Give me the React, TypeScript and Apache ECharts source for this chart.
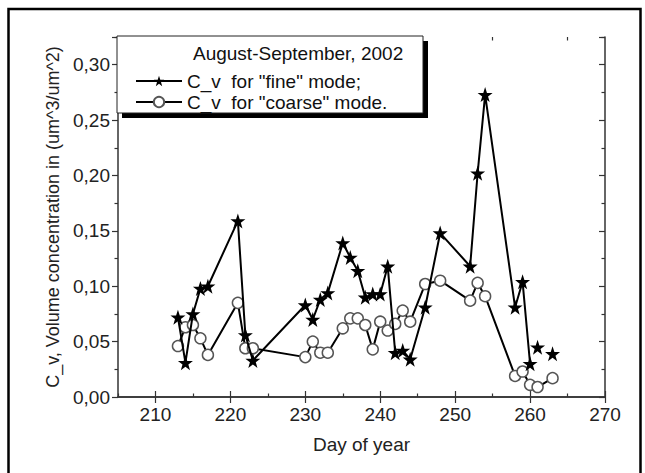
import React, { useEffect, useRef } from "react";
import * as echarts from "echarts";

const days = [213, 214, 215, 216, 217, 221, 222, 223, 230, 231, 232, 233, 235, 236, 237, 238, 239, 240, 241, 242, 243, 244, 246, 248, 252, 253, 254, 258, 259, 260, 261, 263];
const fineValues = [0.072, 0.031, 0.075, 0.098, 0.100, 0.159, 0.056, 0.033, 0.083, 0.070, 0.088, 0.094, 0.139, 0.126, 0.114, 0.090, 0.093, 0.093, 0.118, 0.040, 0.042, 0.034, 0.081, 0.148, 0.118, 0.202, 0.273, 0.081, 0.104, 0.030, 0.045, 0.039];
const coarseValues = [0.046, 0.063, 0.065, 0.053, 0.038, 0.085, 0.044, 0.044, 0.036, 0.050, 0.040, 0.040, 0.062, 0.071, 0.071, 0.065, 0.043, 0.068, 0.060, 0.066, 0.078, 0.068, 0.102, 0.105, 0.087, 0.103, 0.091, 0.019, 0.023, 0.011, 0.009, 0.017];
// days after which the "fine" line is broken
const fineBreaksAfter = [260, 261];

const xMajorTicks = [210, 220, 230, 240, 250, 260, 270];
const xMinorTicks = [205, 215, 225, 235, 245, 255, 265];
const legendTitle = "August-September, 2002";
const fineName = 'C_v  for "fine" mode;';
const coarseName = 'C_v  for "coarse" mode.';
const xName = "Day of year";
const yName = "C_v, Volume concentration in (um^3/um^2)";

const STAR = "path://M50,0 L61.8,35.1 L98.1,35.1 L68.8,56.7 L79.4,91.1 L50,70 L20.6,91.1 L31.2,56.7 L1.9,35.1 L38.2,35.1 Z";
const FONT = "'Liberation Sans', Arial, sans-serif";

export default function App() {
  const ref = useRef<HTMLDivElement>(null);
  useEffect(() => {
    if (!ref.current) return;
    const chart = echarts.init(ref.current, undefined, { renderer: "svg" });

    const fineData: any[] = [];
    days.forEach((d, i) => {
      fineData.push([d, fineValues[i]]);
      if (fineBreaksAfter.includes(d)) fineData.push([d + 0.5, "-"]);
    });
    const coarseData = days.map((d, i) => [d, coarseValues[i]]);

    const axisLine = { show: true, lineStyle: { color: "#333", width: 1.5 } };
    const tickLine = { color: "#333", width: 1.2 };
    const labelStyle = { color: "#222", fontSize: 19, fontFamily: FONT };
    const gridBox = { left: 118, right: 40, top: 37, bottom: 76, containLabel: false };

    const xBase = { type: "value", min: 205, max: 270, interval: 5, splitLine: { show: false } };
    const yBase = { type: "value", min: 0, max: 0.325, interval: 0.05, splitLine: { show: false } };

    chart.setOption({
      animation: false,
      textStyle: { fontFamily: FONT },
      grid: [gridBox, gridBox],
      xAxis: [
        {
          ...xBase, gridIndex: 0, position: "bottom",
          axisLine,
          axisTick: { show: true, inside: true, length: 6, lineStyle: tickLine, customValues: xMajorTicks },
          axisLabel: { ...labelStyle, margin: 8, customValues: xMajorTicks, formatter: (v: number) => String(v) },
          name: xName, nameLocation: "middle", nameGap: 38,
          nameTextStyle: { color: "#222", fontSize: 19, fontFamily: FONT },
        },
        {
          ...xBase, gridIndex: 0, position: "top",
          axisLine,
          axisTick: { show: true, inside: true, length: 6, lineStyle: tickLine, customValues: xMajorTicks },
          axisLabel: { show: false },
        },
        {
          ...xBase, gridIndex: 1, position: "bottom",
          axisLine: { show: false },
          axisTick: { show: true, inside: true, length: 3.5, lineStyle: tickLine, customValues: xMinorTicks },
          axisLabel: { show: false },
        },
        {
          ...xBase, gridIndex: 1, position: "top",
          axisLine: { show: false },
          axisTick: { show: true, inside: true, length: 3.5, lineStyle: tickLine, customValues: xMinorTicks },
          axisLabel: { show: false },
        },
      ],
      yAxis: [
        {
          ...yBase, gridIndex: 0, position: "left",
          axisLine,
          axisTick: { show: true, inside: false, length: 6, lineStyle: tickLine },
          minorTick: { show: true, splitNumber: 2, length: 3.5, lineStyle: tickLine },
          axisLabel: { ...labelStyle, margin: 8, showMaxLabel: false, formatter: (v: number) => v.toFixed(2).replace(".", ",") },
          name: yName, nameLocation: "middle", nameGap: 56, nameRotate: 90,
          nameTextStyle: { color: "#222", fontSize: 18, fontFamily: FONT },
        },
        {
          ...yBase, gridIndex: 0, position: "right",
          axisLine,
          axisTick: { show: true, inside: true, length: 6, lineStyle: tickLine },
          minorTick: { show: true, splitNumber: 2, length: 3.5, lineStyle: tickLine },
          axisLabel: { show: false },
        },
        {
          ...yBase, gridIndex: 1, show: false,
        },
      ],
      legend: {
        orient: "vertical", left: 130, top: 66, itemWidth: 46, itemHeight: 13, itemGap: 1,
        selectedMode: false,
        textStyle: { color: "#111", fontSize: 19, lineHeight: 20, fontFamily: FONT },
        data: [fineName, coarseName],
        z: 10,
      },
      graphic: [
        { type: "rect", z: 5, shape: { x: 8.5, y: 9, width: 632, height: 480 }, style: { fill: "none", stroke: "#000", lineWidth: 2.5 } },
        { type: "rect", z: 6, shape: { x: 122, y: 41, width: 306, height: 77 }, style: { fill: "#000" } },
        { type: "rect", z: 7, shape: { x: 117, y: 36, width: 306, height: 77 }, style: { fill: "#fff", stroke: "#222", lineWidth: 1 } },
        { type: "text", z: 8, x: 193, y: 53, style: { text: legendTitle, fill: "#111", fontSize: 19, fontFamily: FONT, verticalAlign: "middle" } },
      ],
      series: [
        {
          name: fineName, type: "line", xAxisIndex: 0, yAxisIndex: 0, data: fineData,
          connectNulls: false,
          symbol: STAR, symbolSize: 15,
          lineStyle: { color: "#000", width: 2 },
          itemStyle: { color: "#000" },
          z: 3,
        },
        {
          name: coarseName, type: "line", xAxisIndex: 0, yAxisIndex: 0, data: coarseData,
          symbol: "circle", symbolSize: 11,
          lineStyle: { color: "#000", width: 2 },
          itemStyle: { color: "#fff", borderColor: "#555", borderWidth: 1.5 },
          z: 2,
        },
      ],
    });
    return () => chart.dispose();
  }, []);
  return <div ref={ref} style={{ position: "absolute", left: 0, top: 0, width: 645, height: 473, background: "#fff" }} />;
}
